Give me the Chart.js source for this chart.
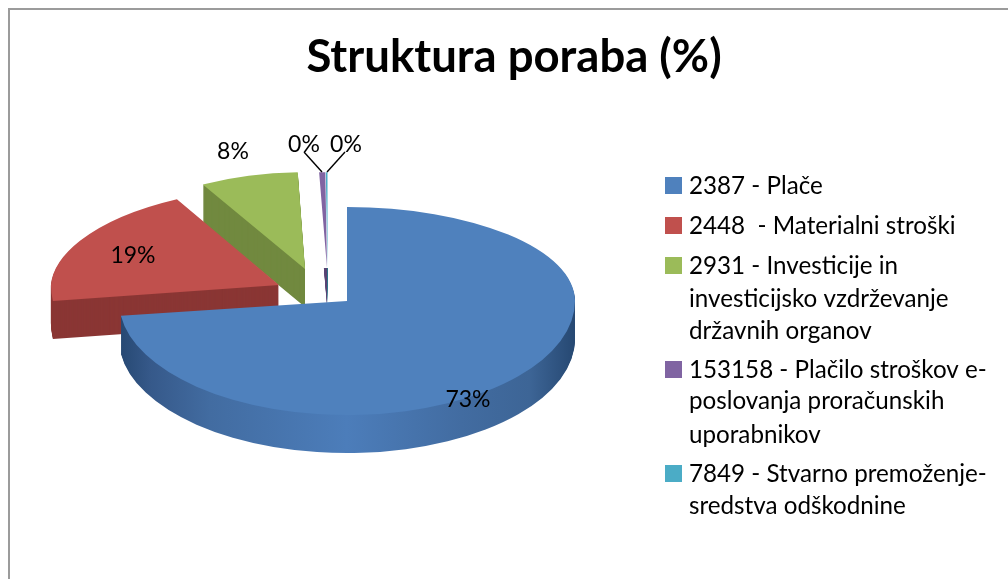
<!DOCTYPE html>
<html><head><meta charset="utf-8">
<style>html,body{margin:0;padding:0;background:#fff;overflow:hidden;width:1008px;height:579px}canvas{display:block}</style>
<script src="https://cdn.jsdelivr.net/npm/chart.js@4"></script>
</head><body><canvas id="c" width="1028" height="579"></canvas>
<script>
const chartTitle = "Struktura poraba (%)";
const categories = [
  ["2387 - Plače"],
  ["2448  - Materialni stroški"],
  ["2931 - Investicije in", "investicijsko vzdrževanje", "državnih organov"],
  ["153158 - Plačilo stroškov e-", "poslovanja proračunskih", "uporabnikov"],
  ["7849 - Stvarno premoženje-", "sredstva odškodnine"]
];
const shares = [72.95, 18.95, 7.55, 0.43, 0.12];
const topColors = ["#4f81bd", "#c0504d", "#9bbb59", "#8064a2", "#4bacc6"];
const wallColors = ["#4a78b0", "#8a3634", "#71893f", "#5c4776", "#35798c"];

// 3D look of the picture
const FONT = "Lato";
const APEX = {x: 347, y: 301};
const DEPTH = 38;
const squashUp = [0.412, 0.431, 0.425, 0.42, 0.42];
const squashDown = [0.5, 0.55, 0.5, 0.5, 0.5];
const widen = [1, 1, 0.92, 1, 1];
const shear = [0, -0.105, 0, 0, 0];
const sliceShift = [[0, 0], [-68, -16], [-42, -32], [-20, -33], [-19.5, -33]];
const wallOnlyBelowApex = [false, false, false, true, true];
const drawOrder = [4, 3, 2, 1, 0];
const labelPos = [[468, 399], [133, 255], [233, 151], [304, 144], [346, 144]];
const leaders = [null, null, null, [[304, 152], [322, 172]], [[345, 152], [327, 172]]];
const legendX = 665, legendTextX = 689;
const legendTops = [186, 226, 266, 370, 474];
const legendLineOffsets = [[0], [0], [0, 33, 65], [0, 31, 65], [0, 32]];

function sliceLayer(ctx, el, color, tx, ty, i, minY) {
  const saved = el.options;
  el.options = Object.assign({}, saved, {backgroundColor: color});
  [[squashUp[i], minY, ty, shear[i]], [squashDown[i], ty, 2000, 0]].forEach(([s, y0, y1, k]) => {
    if (y1 <= y0) return;
    ctx.save();
    ctx.beginPath();
    ctx.rect(-100, y0, 1300, y1 - y0);
    ctx.clip();
    ctx.translate(tx, ty);
    ctx.transform(widen[i], 0, k, 1, 0, 0);
    ctx.scale(1, s);
    ctx.translate(-el.x, -el.y);
    el.draw(ctx);
    ctx.restore();
  });
  el.options = saved;
}

const pie3d = {
  id: 'pie3d',
  beforeDraw(chart) {
    const ctx = chart.ctx;
    ctx.save();
    ctx.fillStyle = '#fff';
    ctx.fillRect(0, 0, chart.width, chart.height);
    ctx.fillStyle = '#9b9b9b';
    ctx.fillRect(8, 8, 1020, 2);
    ctx.fillRect(8, 8, 2, 571);
    ctx.restore();
  },
  beforeDatasetDraw(chart) {
    const ctx = chart.ctx;
    const meta = chart.getDatasetMeta(0);
    drawOrder.forEach(i => {
      const el = meta.data[i];
      const tx = APEX.x + sliceShift[i][0], ty = APEX.y + sliceShift[i][1];
      let wall = wallColors[i];
      if (i === 0) {
        const r = el.outerRadius;
        wall = ctx.createLinearGradient(el.x - r, 0, el.x + r, 0);
        wall.addColorStop(0, '#264872');
        wall.addColorStop(0.07, '#36598a');
        wall.addColorStop(0.2, '#426ca1');
        wall.addColorStop(0.5, '#4c7dba');
        wall.addColorStop(0.75, '#426ca1');
        wall.addColorStop(0.9, '#3d6596');
        wall.addColorStop(1, '#264872');
      }
      const wallTop = wallOnlyBelowApex[i] ? ty : -2000;
      for (let d = DEPTH; d >= 1; d--) sliceLayer(ctx, el, wall, tx, ty + d, i, wallTop);
      sliceLayer(ctx, el, topColors[i], tx, ty, i, -2000);
    });
    return false;
  },
  afterDatasetsDraw(chart) {
    const ctx = chart.ctx;
    const data = chart.data.datasets[0].data;
    const total = data.reduce((a, b) => a + b, 0);
    ctx.save();
    ctx.strokeStyle = '#000';
    ctx.lineWidth = 1.4;
    leaders.forEach(l => {
      if (!l) return;
      ctx.beginPath();
      ctx.moveTo(l[0][0], l[0][1]);
      ctx.lineTo(l[1][0], l[1][1]);
      ctx.stroke();
    });
    ctx.fillStyle = '#000';
    ctx.font = `23px ${FONT}`;
    ctx.textAlign = 'center';
    ctx.textBaseline = 'middle';
    data.forEach((v, i) => {
      ctx.fillText(Math.round(v / total * 100) + '%', labelPos[i][0], labelPos[i][1] + 1);
    });
    // legend
    ctx.textAlign = 'left';
    ctx.font = `24.2px ${FONT}`;
    chart.data.labels.forEach((lines, i) => {
      ctx.fillStyle = topColors[i];
      ctx.fillRect(legendX, legendTops[i] - 9, 17, 17);
      ctx.fillStyle = '#000';
      lines.forEach((t, k) => ctx.fillText(t, legendTextX, legendTops[i] + legendLineOffsets[i][k]));
    });
    ctx.restore();
  }
};

new Chart(document.getElementById('c'), {
  type: 'pie',
  data: {
    labels: categories,
    datasets: [{data: shares, backgroundColor: topColors, borderWidth: 0, radius: 228}]
  },
  plugins: [pie3d],
  options: {
    responsive: false,
    animation: false,
    plugins: {
      legend: {display: false},
      tooltip: {enabled: false},
      title: {
        display: true,
        text: chartTitle,
        color: '#000',
        font: {family: FONT, size: 45.5, weight: 'bold'},
        padding: {top: 30, bottom: 0}
      }
    }
  }
});
</script>
</body></html>
